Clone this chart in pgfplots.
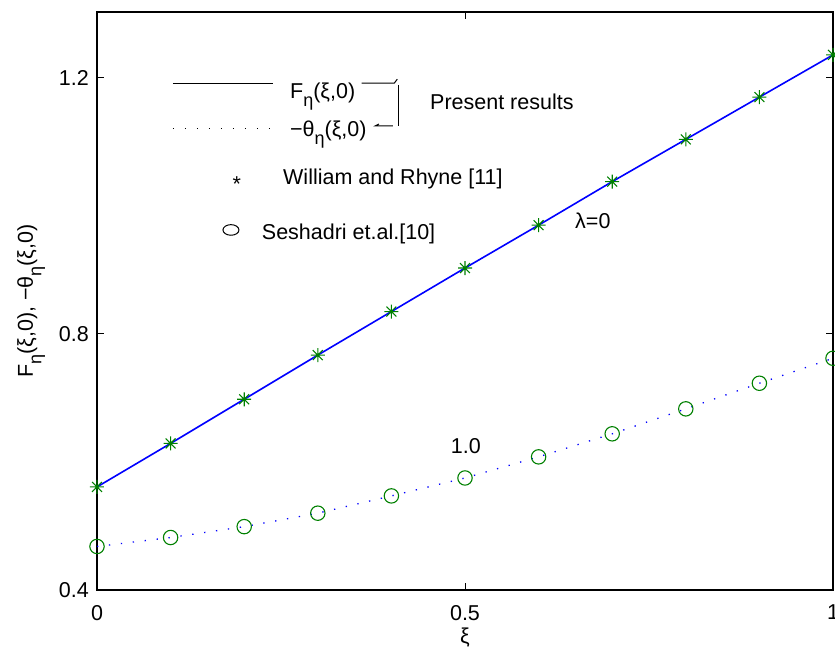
\documentclass[border=0pt]{standalone}
\usepackage{pgfplots}
\pgfplotsset{compat=1.18}
\usepackage{fontspec}
\setmainfont{Liberation Sans}
\newcommand\fsz{\fontsize{21.5bp}{26bp}\selectfont}
\newcommand\sub[1]{\raisebox{-8.5bp}{\fontsize{18bp}{20bp}\selectfont #1}}
\definecolor{mgreen}{rgb}{0,0.5,0}
\pgfdeclareplotmark{mstar}{%
  \pgfpathmoveto{\pgfqpoint{-\pgfplotmarksize}{0pt}}\pgfpathlineto{\pgfqpoint{\pgfplotmarksize}{0pt}}%
  \pgfpathmoveto{\pgfqpoint{0pt}{-\pgfplotmarksize}}\pgfpathlineto{\pgfqpoint{0pt}{\pgfplotmarksize}}%
  \pgfpathmoveto{\pgfqpoint{-.7071\pgfplotmarksize}{-.7071\pgfplotmarksize}}\pgfpathlineto{\pgfqpoint{.7071\pgfplotmarksize}{.7071\pgfplotmarksize}}%
  \pgfpathmoveto{\pgfqpoint{-.7071\pgfplotmarksize}{.7071\pgfplotmarksize}}\pgfpathlineto{\pgfqpoint{.7071\pgfplotmarksize}{-.7071\pgfplotmarksize}}%
  \pgfusepathqstroke}
\pgfplotstableread{
x y
0.0 0.561
0.1 0.629
0.2 0.698
0.3 0.767
0.4 0.835
0.5 0.903
0.6 0.970
0.7 1.038
0.8 1.104
0.9 1.170
1.0 1.236
}\Fdata
\pgfplotstableread{
x y
0.0 0.468
0.1 0.482
0.2 0.499
0.3 0.520
0.4 0.547
0.5 0.575
0.6 0.608
0.7 0.644
0.8 0.683
0.9 0.723
1.0 0.762
}\Tdata
\begin{document}
\begin{tikzpicture}
\begin{axis}[
  scale only axis, width=736bp, height=578bp,
  xmin=0, xmax=1, ymin=0.4, ymax=1.303,
  xtick={0,0.5,1}, ytick={0.4,0.8,1.2},
  xticklabels={0,0.5,1}, yticklabels={0.4,0.8,1.2},
  tick align=inside, major tick length=7bp,
  axis line style={line width=1.3bp},
  tick style={line width=1bp, black},
  xticklabel style={font=\fsz, inner sep=0pt, yshift=-15bp},
  yticklabel style={font=\fsz, inner sep=0pt, xshift=-8bp},
  clip=false,
]
\addplot[blue, line width=1.6bp] table[x=x,y=y]{\Fdata};
\addplot[blue, line width=1.3bp, dash pattern=on 1.3bp off 10.7bp] table[x=x,y=y]{\Tdata};
\addplot[only marks, mark=mstar, mark size=7bp, mgreen, mark options={line width=1.1bp}] table[x=x,y=y]{\Fdata};
\addplot[only marks, mark=o, mark size=7.2bp, mgreen, mark options={line width=1.1bp}] table[x=x,y=y]{\Tdata};

% axis labels
\node[font=\fsz, anchor=base, inner sep=0pt] at (axis description cs:0.5,-0.093) {ξ};
\node[font=\fsz, anchor=base, inner sep=0pt, rotate=90] at (axis description cs:-0.087,0.5) {F\sub{η}(ξ,0), −θ\sub{η}(ξ,0)};

% legend-like annotations
\draw[line width=1bp] (axis cs:0.103,1.192) -- (axis cs:0.239,1.192);
\draw[line width=1.2bp, dash pattern=on 1.2bp off 10.8bp] (axis cs:0.103,1.121) -- (axis cs:0.237,1.121);
\node[font=\fsz, anchor=base west, inner sep=0pt] at (axis cs:0.2622,1.168) {F\sub{η}(ξ,0)};
\node[font=\fsz, anchor=base west, inner sep=0pt] at (axis cs:0.2622,1.109) {−θ\sub{η}(ξ,0)};
\draw[line width=1bp] (axis cs:0.3597,1.192) -- (axis cs:0.404,1.192) -- (axis cs:0.408,1.198);
\draw[line width=1bp] (axis cs:0.4094,1.189) -- (axis cs:0.4094,1.125);
\draw[line width=1bp] (axis cs:0.383,1.128) -- (axis cs:0.378,1.125) -- (axis cs:0.402,1.125);
\node[font=\fsz, anchor=base west, inner sep=0pt] at (axis cs:0.4524,1.150) {Present results};
\node[font=\fsz, anchor=base, inner sep=0pt] at (axis cs:0.190,1.0225) {*};
\node[font=\fsz, anchor=base west, inner sep=0pt] at (axis cs:0.2527,1.034) {William and Rhyne [11]};
\draw[line width=1bp] (axis cs:0.182,0.9625) ellipse [x radius=8bp, y radius=5.3bp];
\node[font=\fsz, anchor=base west, inner sep=0pt] at (axis cs:0.2238,0.947) {Seshadri et.al.[10]};
\node[font=\fsz, anchor=base west, inner sep=0pt] at (axis cs:0.6495,0.964) {λ=0};
\node[font=\fsz, anchor=base west, inner sep=0pt] at (axis cs:0.4805,0.614) {1.0};
\end{axis}
\pgfresetboundingbox
\path[use as bounding box] (-97bp,-60bp) rectangle (738bp,590bp);
\end{tikzpicture}
\end{document}
